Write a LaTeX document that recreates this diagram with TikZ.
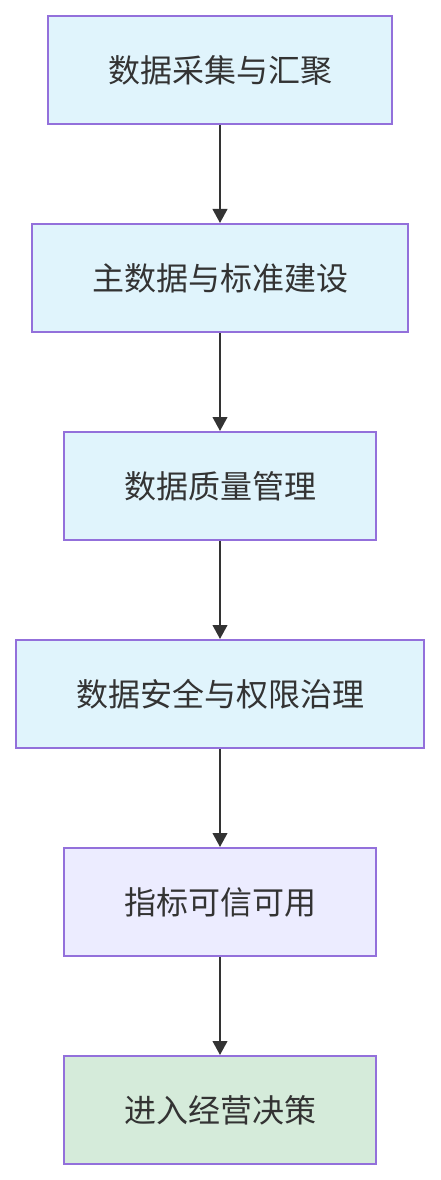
\documentclass[tikz,border=0pt]{standalone}
\usepackage{fontspec}
\usepackage{xcolor}
\usepackage{tikz}
\usetikzlibrary{arrows.meta, positioning}
\newfontfamily\cjk{Noto Sans CJK SC}
\definecolor{flowborder}{HTML}{9370DB}
\definecolor{stepblue}{HTML}{E0F4FC}
\definecolor{steplav}{HTML}{ECECFF}
\definecolor{stepgreen}{HTML}{D5EBDA}
\definecolor{inkgrey}{HTML}{333333}

\begin{document}
\begin{tikzpicture}[
    x=0.75pt, y=-0.75pt,
    stagebox/.style={rectangle, draw=flowborder, fill=stepblue, line width=1.5pt,
        minimum height=81pt, align=center, text=inkgrey, inner sep=0pt,
        font=\cjk\fontsize{24}{29}\selectfont},
    metricbox/.style={stagebox, fill=steplav},
    decisionbox/.style={stagebox, fill=stepgreen},
    arr/.style={-{Triangle[length=10.5pt, width=11pt]}, line width=1.5pt, inkgrey}
]
    \useasboundingbox (0,0) rectangle (440,1180);

    % === governance stages ===
    \node[stagebox, minimum width=258pt] (collect) at (220, 70) {数据采集与汇聚};
    \node[stagebox, minimum width=282pt] (master)  at (220, 278) {主数据与标准建设};
    \node[stagebox, minimum width=234pt] (quality) at (220, 486) {数据质量管理};
    \node[stagebox, minimum width=306pt] (secure)  at (220, 694) {数据安全与权限治理};

    % === outcomes ===
    \node[metricbox, minimum width=234pt]   (metric) at (220, 902) {指标可信可用};
    \node[decisionbox, minimum width=234pt] (decide) at (220, 1110) {进入经营决策};

    % --- arrows ---
    \draw[arr] (collect) -- (master);
    \draw[arr] (master) -- (quality);
    \draw[arr] (quality) -- (secure);
    \draw[arr] (secure) -- (metric);
    \draw[arr] (metric) -- (decide);
\end{tikzpicture}
\end{document}
